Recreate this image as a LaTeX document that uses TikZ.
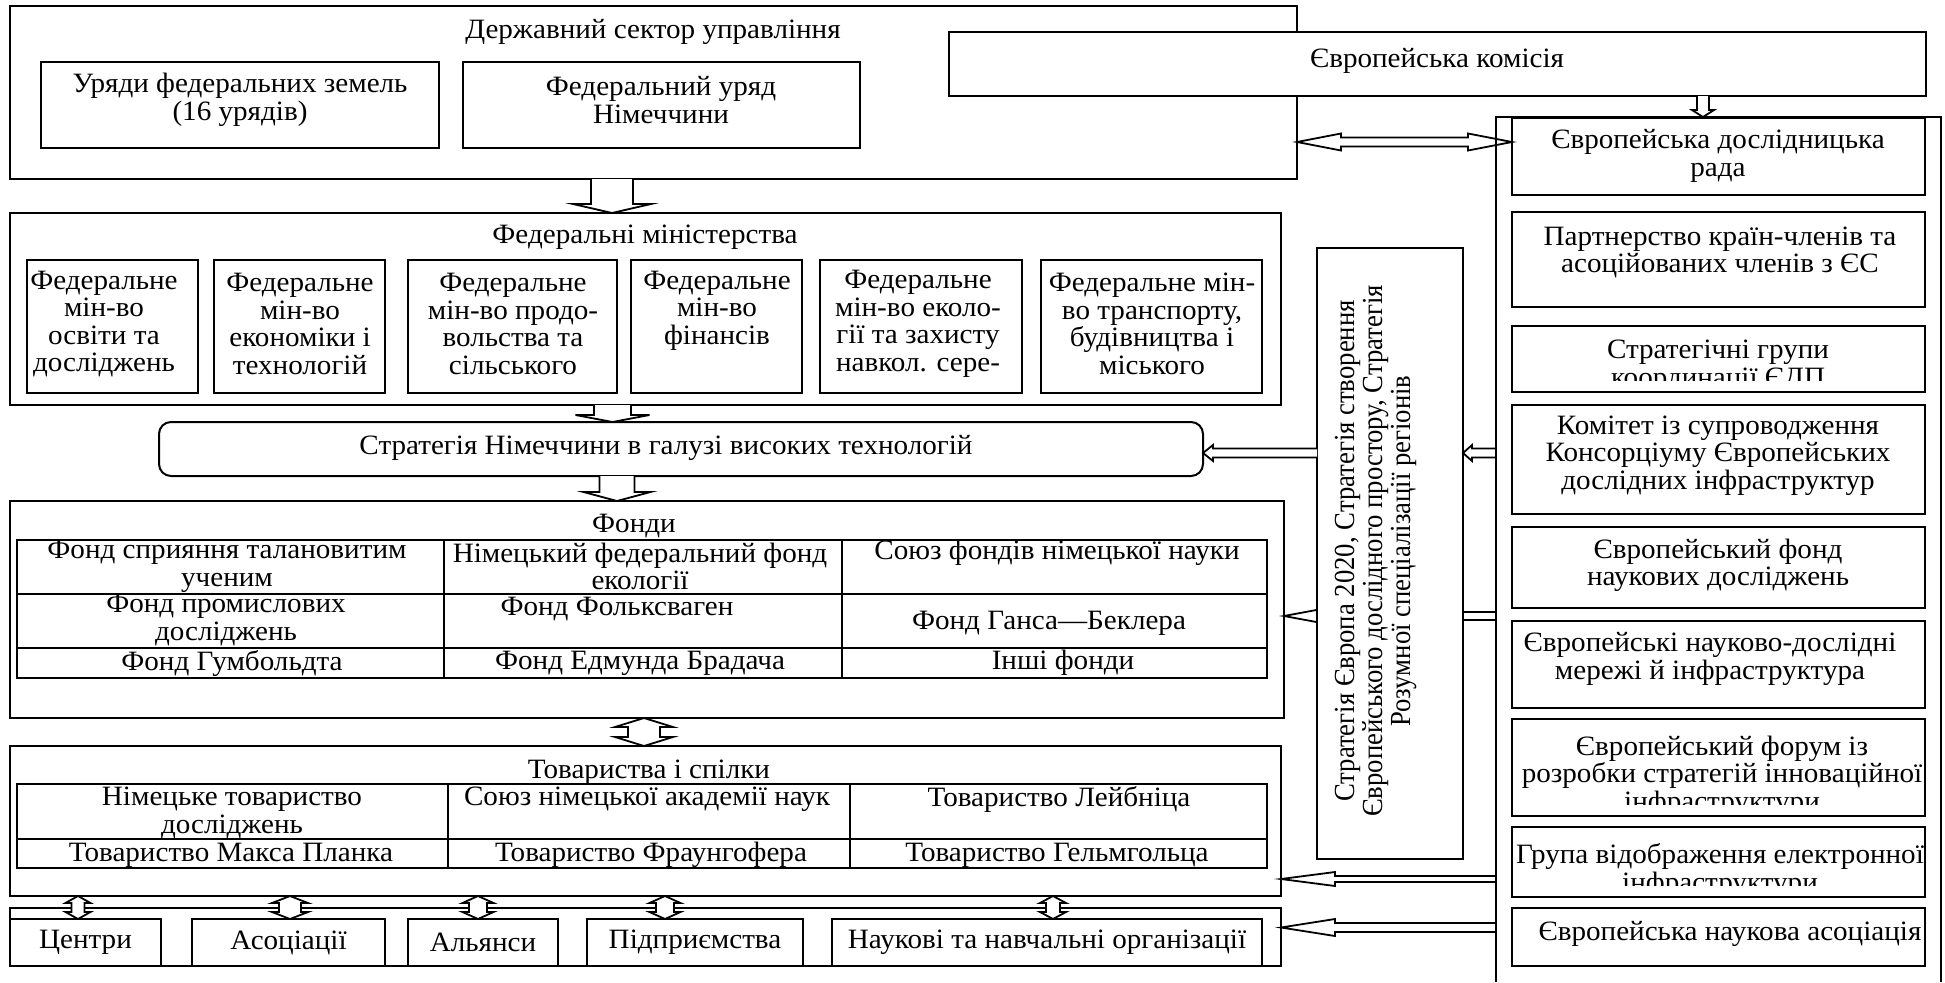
\documentclass[tikz,border=0pt]{standalone}
\usepackage{fontspec}
\usepackage{graphicx}
\setmainfont{Liberation Serif}[FakeStretch=1.04]
\newfontfamily\vfont{Liberation Serif}
\newcommand\mainsz{\fontsize{28}{27.5}\selectfont}
\tikzset{
  bx/.style={draw, line width=2pt, fill=white, inner sep=0pt, outer sep=0pt},
  txt/.style={align=center, inner sep=0pt, font=\mainsz},
  arr/.style={draw, line width=1.8pt, fill=white, line join=miter},
  tb/.style={line width=2.6pt}
}
\newcommand\myBox[5]{%
  \node[bx, anchor=north west, minimum width={(#4-#2)*1pt}, minimum height={(#5-#3)*1pt}] (#1) at (#2,#3) {};}
\newcommand\myArrH[6]{%
  \pgfmathsetmacro\myb{#2+sign(#1-#2)*#6}%
  \filldraw[arr] (#1,{#3-#4}) -- (\myb,{#3-#4}) -- (\myb,{#3-#5}) -- (#2,#3) -- (\myb,{#3+#5}) -- (\myb,{#3+#4}) -- (#1,{#3+#4});}
\newcommand\myArrV[6]{%
  \pgfmathsetmacro\myb{#2+sign(#1-#2)*#6}%
  \filldraw[arr] ({#3-#4},#1) -- ({#3-#4},\myb) -- ({#3-#5},\myb) -- (#3,#2) -- ({#3+#5},\myb) -- ({#3+#4},\myb) -- ({#3+#4},#1);}
\newcommand\myDArrH[6]{%
  \filldraw[arr] (#1,#3) -- ({#1+#6},{#3-#5}) -- ({#1+#6},{#3-#4}) -- ({#2-#6},{#3-#4}) -- ({#2-#6},{#3-#5}) -- (#2,#3) -- ({#2-#6},{#3+#5}) -- ({#2-#6},{#3+#4}) -- ({#1+#6},{#3+#4}) -- ({#1+#6},{#3+#5}) -- cycle;}
\newcommand\myDArrV[6]{%
  \filldraw[arr] (#3,#1) -- ({#3+#5},{#1+#6}) -- ({#3+#4},{#1+#6}) -- ({#3+#4},{#2-#6}) -- ({#3+#5},{#2-#6}) -- (#3,#2) -- ({#3-#5},{#2-#6}) -- ({#3-#4},{#2-#6}) -- ({#3-#4},{#1+#6}) -- ({#3-#5},{#1+#6}) -- cycle;}
\begin{document}
\begin{tikzpicture}[x=1pt,y=-1pt]
\useasboundingbox (0,0) rectangle (1945,982);
\fill[white] (0,0) rectangle (1945,982);

% ---------- top sector ----------
\myBox{top}{10}{6}{1297}{179}
\node[txt] (toptitle) at (653,32) {Державний сектор управління};
\myBox{ury}{41}{62}{439}{148}
\node[txt] at (240,100) {Уряди федеральних земель\\(16 урядів)};
\myBox{fedgov}{463}{62}{860}{148}
\node[txt] at (661,100) {Федеральний уряд\\Німеччини};
\myBox{comm}{949}{32}{1926}{96}
\node[txt] at (1437,61) {Європейська комісія};

% ---------- ministries ----------
\myBox{mins}{10}{213}{1281}{405}
\node[txt] at (645,237) {Федеральні міністерства};
\myBox{m1}{27}{260}{198}{393}
\myBox{m2}{214}{260}{385}{393}
\myBox{m3}{408}{260}{617}{393}
\myBox{m4}{631}{260}{802}{393}
\myBox{m5}{820}{260}{1022}{393}
\myBox{m6}{1041}{260}{1262}{393}
\node[txt] at (104,324) {Федеральне\\мін-во\\освіти та\\досліджень};
\node[txt] at (300,324) {Федеральне\\мін-во\\економіки і\\технологій};
\node[txt] at (513,324) {Федеральне\\мін-во продо-\\вольства та\\сільського};
\node[txt] at (717,310.5) {Федеральне\\мін-во\\фінансів};
\node[txt] at (918,324) {Федеральне\\мін-во еколо-\\гії та захисту\\навкол. сере-};
\node[txt] at (1152,324) {Федеральне мін-\\во транспорту,\\будівництва і\\міського};

% ---------- German strategy ----------
\draw[line width=2pt, rounded corners=12pt, fill=white] (159,422) rectangle (1203,476);
\node[txt] (strger) at (666,448) {Стратегія Німеччини в галузі високих технологій};

% ---------- funds ----------
\myBox{funds}{10}{501}{1284}{718}
\node[txt] at (634,526) {Фонди};
\draw[tb] (17,540) rectangle (1267,678);
\draw[tb] (17,594) -- (1267,594);
\draw[tb] (17,648) -- (1267,648);
\draw[tb] (444,540) -- (444,678);
\draw[tb] (842,540) -- (842,678);
\node[txt] at (227,566.5) {Фонд сприяння талановитим\\ученим};
\node[txt] at (640,566.5) {Німецький федеральний фонд\\екології};
\node[txt] at (1057,553) {Союз фондів німецької науки};
\node[txt] at (226,620) {Фонд промислових\\досліджень};
\node[txt] at (617,609) {Фонд Фольксваген};
\node[txt] at (1049,623) {Фонд Ганса—Беклера};
\node[txt] at (232,663) {Фонд Гумбольдта};
\node[txt] at (640,663) {Фонд Едмунда Брадача};
\node[txt] at (1063,663) {Інші фонди};

% ---------- societies ----------
\myBox{soc}{10}{746}{1281}{896}
\node[txt] at (649,772) {Товариства і спілки};
\draw[tb] (17,784) rectangle (1267,868);
\draw[tb] (17,839) -- (1267,839);
\draw[tb] (448,784) -- (448,868);
\draw[tb] (850,784) -- (850,868);
\node[txt] at (232,813) {Німецьке товариство\\досліджень};
\node[txt] at (647,799) {Союз німецької академії наук};
\node[txt] at (1059,799) {Товариство Лейбніца};
\node[txt] at (231,855) {Товариство Макса Планка};
\node[txt] at (651,855) {Товариство Фраунгофера};
\node[txt] at (1057,855) {Товариство Гельмгольца};

% ---------- bottom row ----------
\myBox{bot}{10}{908}{1281}{966}
\myBox{b1}{10}{919}{161}{966}
\myBox{b2}{192}{919}{385}{966}
\myBox{b3}{408}{919}{558}{966}
\myBox{b4}{587}{919}{803}{966}
\myBox{b5}{832}{919}{1262}{966}
\node[txt] at (b1.center) {Центри};
\node[txt] at (b2.center) {Асоціації};
\node[txt] at (b3.center) {Альянси};
\node[txt] at (b4.center) {Підприємства};
\node[txt] at (b5.center) {Наукові та навчальні організації};

% ---------- arrow behind strategy box ----------
\myArrH{1496}{1284}{616}{4}{6.5}{35}

% ---------- EU strategy (vertical) ----------
\myBox{strat}{1317}{248}{1463}{859}
\node[inner sep=0pt] (vtext) at (1377,551) {\scalebox{1.09}[1]{\rotatebox{90}{\vfont\fontsize{26.7}{25.7}\selectfont\begin{tabular}{@{}c@{}}Стратегія Європа 2020, Стратегія створення\\Європейського дослідного простору, Стратегія\\Розумної спеціалізації регіонів\end{tabular}}}};

% ---------- right column ----------
\myBox{eb1}{1512}{118}{1925}{195}
\myBox{eb2}{1512}{212}{1925}{307}
\myBox{eb3}{1512}{326}{1925}{392}
\myBox{eb4}{1512}{405}{1925}{514}
\myBox{eb5}{1512}{527}{1925}{608}
\myBox{eb6}{1512}{621}{1925}{708}
\myBox{eb7}{1512}{719}{1925}{816}
\myBox{eb8}{1512}{827}{1925}{897}
\myBox{eb9}{1512}{908}{1925}{966}
\node[txt] at (1718,156) {Європейська дослідницька\\рада};
\node[txt] at (1720,252.5) {Партнерство країн-членів та\\асоційованих членів з ЄС};
\begin{scope}
  \clip (1513,327) rectangle (1924,380);
  \node[txt, anchor=base] at (1718,358.5) {Стратегічні групи};
  \node[txt, anchor=base] at (1718,386) {координації ЄДП};
\end{scope}
\node[txt] at (1718,455.5) {Комітет із супроводження\\Консорціуму Європейських\\дослідних інфраструктур};
\node[txt] at (1718,565.5) {Європейський фонд\\наукових досліджень};
\node[txt] at (1710,659) {Європейські науково-дослідні\\мережі й інфраструктура};
\begin{scope}
  \clip (1513,720) rectangle (1924,804);
  \node[txt, anchor=base] at (1722,755) {Європейський форум із};
  \node[txt, anchor=base] at (1722,782.5) {розробки стратегій інноваційної};
  \node[txt, anchor=base] at (1722,810) {інфраструктури};
\end{scope}
\begin{scope}
  \clip (1513,828) rectangle (1924,885);
  \node[txt, anchor=base] at (1720,863.5) {Група відображення електронної};
  \node[txt, anchor=base] at (1720,891) {інфраструктури};
\end{scope}
\node[txt] at (1730,934) {Європейська наукова асоціація};

% ---------- arrows ----------
\myArrV{179}{213}{612}{21}{39}{9}
\myArrV{405}{422}{612.5}{18.5}{37}{7}
\myArrV{476}{501}{617}{17.5}{33.5}{9}
\myDArrV{718}{746}{644}{16}{29}{9}
\myArrV{96}{117}{1703}{6}{11}{7}
\myDArrH{1297}{1512}{142}{4.5}{8.5}{44}
\myArrH{1496}{1463}{453}{4.5}{8}{9}
\myArrH{1317}{1203}{453}{4.5}{8}{10}
\myArrH{1496}{1281}{879}{3}{7}{54}
\myArrH{1496}{1281}{927.5}{4.5}{8.5}{54}
\myDArrV{896}{919}{78}{6.5}{12.5}{7}
\myDArrV{896}{919}{290}{11}{18}{7}
\myDArrV{896}{919}{478}{9}{15.5}{7}
\myDArrV{896}{919}{665}{9}{15.5}{7}
\myDArrV{896}{919}{1053}{7}{13}{7}

% column outline
\draw[line width=2pt] (1496,982) -- (1496,117) -- (1941,117) -- (1941,982);
\end{tikzpicture}
\end{document}
